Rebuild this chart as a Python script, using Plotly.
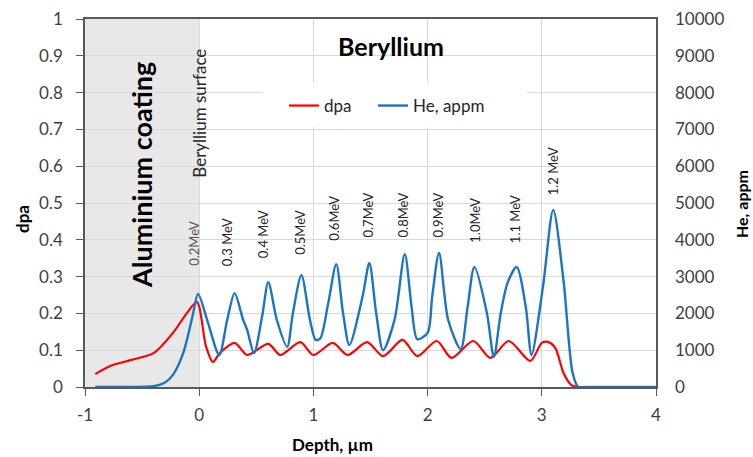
import plotly.graph_objects as go

# ---- data ----
he_depth = [-0.91, -0.6, -0.4, -0.3, -0.23, -0.14, -0.06, -0.01, 0.07, 0.175,
            0.245, 0.31, 0.385, 0.42, 0.48, 0.55, 0.605, 0.68, 0.77, 0.82, 0.895,
            0.97, 1.02, 1.06, 1.13, 1.20, 1.26, 1.315, 1.43, 1.49, 1.55, 1.61,
            1.71, 1.80, 1.86, 1.91, 2.0, 2.04, 2.10, 2.18, 2.29, 2.35, 2.41,
            2.52, 2.58, 2.64, 2.70, 2.78, 2.86, 2.91, 3.01, 3.10, 3.19, 3.27,
            3.32, 3.38, 3.6, 4.0]
he_appm = [0, 0, 20, 120, 330, 920, 1900, 2530, 1820, 870,
           1820, 2550, 1820, 1550, 920, 1900, 2850, 1820, 1090, 2000, 3040,
           1820, 1280, 1320, 2280, 3340, 2000, 1140, 2450, 3370, 2000, 1000,
           1820, 3610, 2170, 1300, 1470, 2450, 3640, 1820, 1030, 2170, 3260,
           2000, 820, 2000, 2830, 3260, 2170, 870, 2720, 4810, 2900, 380,
           0, 0, 0, 0]

dpa_depth = [-0.91, -0.78, -0.6, -0.4, -0.23, -0.11, -0.02, 0.06, 0.12, 0.18,
             0.31, 0.42, 0.605, 0.71, 0.885, 1.0, 1.17, 1.30, 1.47, 1.61, 1.78,
             1.91, 2.08, 2.21, 2.40, 2.55, 2.71, 2.90, 3.0, 3.06, 3.12, 3.19,
             3.26, 3.32, 3.4]
dpa_val = [0.035, 0.057, 0.073, 0.092, 0.147, 0.20, 0.231, 0.11, 0.068, 0.092,
           0.12, 0.087, 0.117, 0.087, 0.122, 0.087, 0.12, 0.087, 0.122, 0.084, 0.128,
           0.084, 0.125, 0.079, 0.125, 0.079, 0.125, 0.071, 0.12, 0.122, 0.105, 0.038,
           0.005, 0.0, 0.0]

energy_labels = ["0.2MeV", "0.3 MeV", "0.4 MeV", "0.5MeV", "0.6MeV", "0.7MeV",
                 "0.8MeV", "0.9MeV", "1.0MeV", "1.1 MeV", "1.2 MeV"]
energy_label_x = [-0.053, 0.245, 0.56, 0.876, 1.173, 1.48, 1.786, 2.093, 2.417, 2.767, 3.10]
energy_label_y = [0.323, 0.323, 0.345, 0.353, 0.391, 0.40, 0.40, 0.40, 0.386, 0.386, 0.516]

x_ticks = [-1, 0, 1, 2, 3, 4]
dpa_ticks = [0, 0.1, 0.2, 0.3, 0.4, 0.5, 0.6, 0.7, 0.8, 0.9, 1]
he_ticks = [0, 1000, 2000, 3000, 4000, 5000, 6000, 7000, 8000, 9000, 10000]

FONT = "Lato"
AXIS_COL = "#595959"
GRID_COL = "#d9d9d9"
TXT = "#404040"

W, H = 753, 457
L, R, T, B = 85, 97, 19, 70
PW, PH = W - L - R, H - T - B


def px_x(p):
    return (p - L) / PW


def px_y(p):
    return (H - B - p) / PH


fig = go.Figure()
fig.add_trace(go.Scatter(x=dpa_depth, y=dpa_val, name="dpa", mode="lines",
                         line=dict(color="#ff0000", width=2.2, shape="spline", smoothing=0.8),
                         yaxis="y", legend="legend"))
fig.add_trace(go.Scatter(x=he_depth, y=he_appm, name="He, appm", mode="lines",
                         line=dict(color="#1a75c4", width=2.4, shape="spline", smoothing=0.8),
                         yaxis="y2", legend="legend2"))

# shaded aluminium coating region
fig.add_shape(type="rect", xref="x", yref="paper", x0=-1, x1=0, y0=0, y1=1,
              fillcolor="#e8e8e8", line_width=0, layer="below")
# white legend backdrop
fig.add_shape(type="rect", xref="paper", yref="paper",
              x0=px_x(263), x1=px_x(527), y0=px_y(127), y1=px_y(83),
              fillcolor="white", line_width=0, layer="above")

annotations = []
for t, xv, yv in zip(energy_labels, energy_label_x, energy_label_y):
    annotations.append(dict(x=xv, y=yv, xref="x", yref="y", text=t, textangle=-90,
                            showarrow=False, xanchor="center", yanchor="bottom",
                            font=dict(family=FONT, size=13,
                                      color="#595959" if t == "0.2MeV" else "#262626")))
annotations += [
    dict(x=0, y=0.5625, xref="x", yref="y", text="Beryllium surface", textangle=-90,
         showarrow=False, xanchor="center", yanchor="bottom",
         font=dict(family=FONT, size=17, color="#262626")),
    dict(x=-0.5, y=0.264, xref="x", yref="y", text="<b>Aluminium coating</b>", textangle=-90,
         showarrow=False, xanchor="center", yanchor="bottom",
         font=dict(family=FONT, size=27, color="black")),
    dict(x=1.68, y=0.927, xref="x", yref="y", text="<b>Beryllium</b>",
         showarrow=False, xanchor="center", yanchor="middle",
         font=dict(family=FONT, size=25, color="black")),
    dict(x=px_x(22), y=px_y(219), xref="paper", yref="paper",
         text="<b>dpa</b>", textangle=-90, showarrow=False,
         xanchor="center", yanchor="middle",
         font=dict(family=FONT, size=17, color="black")),
    dict(x=px_x(741), y=px_y(204), xref="paper", yref="paper",
         text="<b>He, appm</b>", textangle=-90, showarrow=False,
         xanchor="center", yanchor="middle",
         font=dict(family=FONT, size=16, color="black")),
    dict(x=px_x(332), y=px_y(444), xref="paper", yref="paper",
         text="<b>Depth, µm</b>", showarrow=False,
         xanchor="center", yanchor="middle",
         font=dict(family=FONT, size=17, color="black")),
]

legend_common = dict(orientation="h", xanchor="left", yanchor="middle",
                     bgcolor="rgba(0,0,0,0)", itemwidth=30,
                     font=dict(family=FONT, size=17, color="#262626"))

fig.update_layout(
    width=W, height=H,
    margin=dict(l=L, r=R, t=T, b=B, autoexpand=False),
    paper_bgcolor="white", plot_bgcolor="white",
    font=dict(family=FONT, size=17, color=TXT),
    showlegend=True,
    legend=dict(x=px_x(284), y=px_y(106), **legend_common),
    legend2=dict(x=px_x(373), y=px_y(106), **legend_common),
    xaxis=dict(range=[-1, 4], tickvals=x_ticks, ticktext=[str(v) for v in x_ticks],
               showgrid=True, gridcolor=GRID_COL, automargin=False,
               zeroline=False, showline=True, linecolor=AXIS_COL, linewidth=1.5,
               mirror=True, ticks="outside", ticklen=7, tickcolor=AXIS_COL,
               ticklabelstandoff=5, tickfont=dict(size=17, color=TXT)),
    yaxis=dict(range=[0, 1], tickvals=dpa_ticks, ticktext=[f"{v:g}" for v in dpa_ticks],
               showgrid=True, gridcolor=GRID_COL, zeroline=False, automargin=False,
               showline=True, linecolor=AXIS_COL, linewidth=1.5, mirror=True,
               ticks="outside", ticklen=7, tickcolor=AXIS_COL,
               ticklabelstandoff=10, tickfont=dict(size=17, color=TXT)),
    yaxis2=dict(range=[0, 10000], tickvals=he_ticks, ticktext=[str(v) for v in he_ticks],
                overlaying="y", side="right", automargin=False,
                showgrid=False, zeroline=False, showline=False, ticks="",
                ticklabelstandoff=18, tickfont=dict(size=17, color=TXT)),
    annotations=annotations,
)

fig.write_html("out.html", config={"displayModeBar": False},
               post_script="document.body.style.margin='0';document.body.style.overflow='hidden';")
